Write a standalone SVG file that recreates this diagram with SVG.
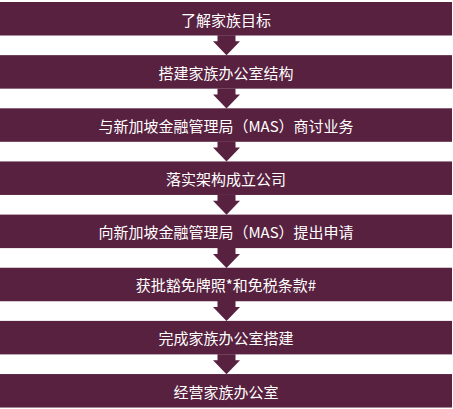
<svg xmlns="http://www.w3.org/2000/svg" xmlns:xlink="http://www.w3.org/1999/xlink" width="453" height="409" viewBox="0 0 453 409">
<style>
.bar{fill:#58213f}
.lbl{fill:#ffffff;font-family:"Noto Sans CJK SC","Noto Sans",sans-serif;font-size:15px;text-anchor:middle}
.arr{fill:#58213f}
</style>
<defs>
<polygon id="arrow" points="217.5,0 235.5,0 235.5,6 240,6 226.5,20 213,6 217.5,6"/>
</defs>
<rect width="453" height="409" fill="#ffffff"/>
<g id="connectors">
<use xlink:href="#arrow" class="arr" transform="translate(0,35.3)"/>
<use xlink:href="#arrow" class="arr" transform="translate(0,88.45)"/>
<use xlink:href="#arrow" class="arr" transform="translate(0,141.6)"/>
<use xlink:href="#arrow" class="arr" transform="translate(0,194.75)"/>
<use xlink:href="#arrow" class="arr" transform="translate(0,247.9)"/>
<use xlink:href="#arrow" class="arr" transform="translate(0,301.05)"/>
<use xlink:href="#arrow" class="arr" transform="translate(0,354.2)"/>
</g>
<g id="n1"><rect class="bar" x="0" y="2" width="452" height="33.5"/><text class="lbl" x="226" y="25.5">了解家族目标</text></g>
<g id="n2"><rect class="bar" x="0" y="55.15" width="452" height="33.5"/><text class="lbl" x="226" y="78.65">搭建家族办公室结构</text></g>
<g id="n3"><rect class="bar" x="0" y="108.3" width="452" height="33.5"/><text class="lbl" x="226" y="131.8">与新加坡金融管理局（MAS）商讨业务</text></g>
<g id="n4"><rect class="bar" x="0" y="161.45" width="452" height="33.5"/><text class="lbl" x="226" y="184.95">落实架构成立公司</text></g>
<g id="n5"><rect class="bar" x="0" y="214.6" width="452" height="33.5"/><text class="lbl" x="226" y="238.1">向新加坡金融管理局（MAS）提出申请</text></g>
<g id="n6"><rect class="bar" x="0" y="267.75" width="452" height="33.5"/><text class="lbl" x="226" y="291.25">获批豁免牌照*和免税条款#</text></g>
<g id="n7"><rect class="bar" x="0" y="320.9" width="452" height="33.5"/><text class="lbl" x="226" y="344.4">完成家族办公室搭建</text></g>
<g id="n8"><rect class="bar" x="0" y="374.05" width="452" height="33.5"/><text class="lbl" x="226" y="397.55">经营家族办公室</text></g>
</svg>
